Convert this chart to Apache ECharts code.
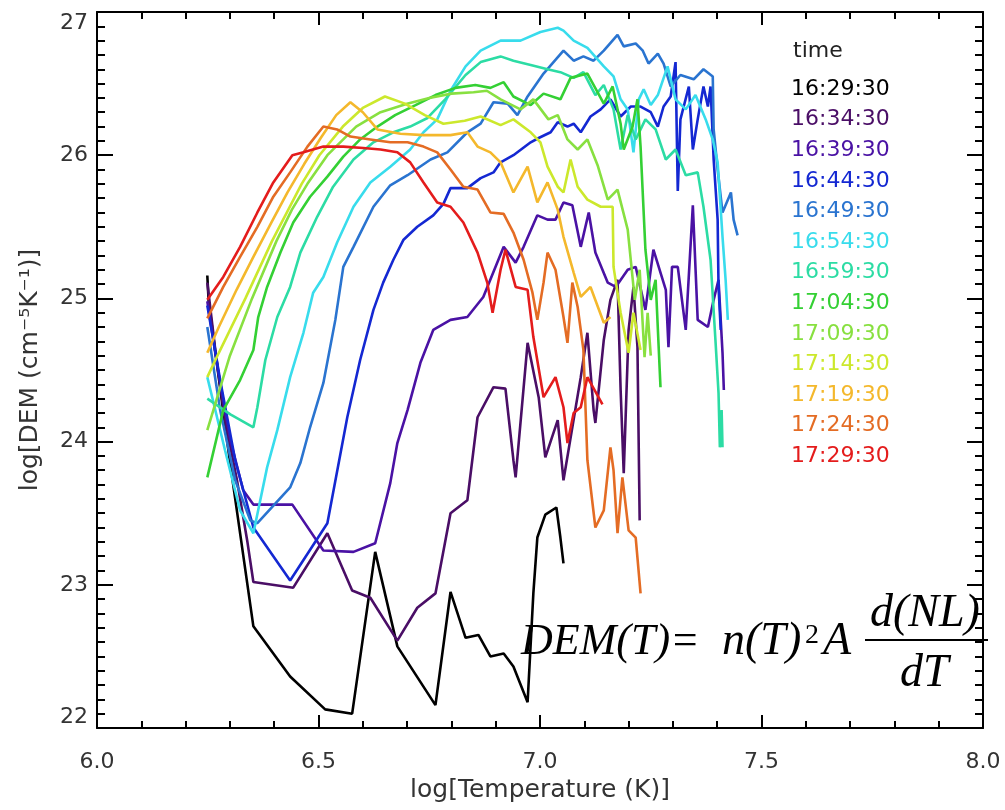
<!DOCTYPE html>
<html>
<head>
<meta charset="utf-8">
<title>DEM</title>
<script src="https://cdn.jsdelivr.net/npm/echarts@6/dist/echarts.min.js"></script>
<style>
  html, body { margin: 0; padding: 0; background: #fff; }
  #chart { width: 1005px; height: 810px; }
</style>
</head>
<body>
<div id="chart"></div>
<script>
// legend entries (time of each curve)
var times = ['16:29:30', '16:34:30', '16:39:30', '16:44:30', '16:49:30', '16:54:30', '16:59:30',
  '17:04:30', '17:09:30', '17:14:30', '17:19:30', '17:24:30', '17:29:30']

// axis ticks
var xTicks = [6.0, 6.5, 7.0, 7.5, 8.0]
var yTicks = [22, 23, 24, 25, 26, 27]

// [log T, log DEM]
var d162930 = [[6.249,25.16],[6.252,24.98],[6.300,23.86],[6.353,22.71],[6.436,22.36],[6.515,22.13],[6.576,22.10],[6.628,23.23],[6.678,22.57],[6.764,22.16],[6.798,22.95],[6.832,22.63],[6.861,22.65],[6.888,22.50],[6.918,22.52],[6.940,22.43],[6.972,22.18],[6.985,22.94],[6.994,23.33],[7.012,23.49],[7.037,23.54],[7.046,23.33],[7.053,23.15]]
var d163430 = [[6.249,25.11],[6.267,24.64],[6.289,24.15],[6.316,23.73],[6.339,23.31],[6.353,23.02],[6.443,22.98],[6.520,23.36],[6.576,22.96],[6.617,22.91],[6.678,22.61],[6.723,22.84],[6.764,22.94],[6.798,23.50],[6.836,23.59],[6.859,24.17],[6.895,24.38],[6.922,24.37],[6.940,23.87],[6.945,23.75],[6.972,24.69],[6.997,24.31],[7.012,23.89],[7.040,24.15],[7.053,23.73],[7.092,24.45],[7.107,24.76],[7.121,24.22],[7.125,24.13],[7.144,24.71],[7.159,24.99],[7.175,25.13],[7.182,24.36],[7.189,23.78],[7.200,24.78],[7.211,25.08],[7.220,24.66],[7.225,23.45]]
var d163930 = [[6.249,24.98],[6.273,24.50],[6.301,24.01],[6.330,23.66],[6.353,23.56],[6.441,23.56],[6.511,23.24],[6.579,23.23],[6.628,23.29],[6.662,23.71],[6.678,23.99],[6.701,24.22],[6.730,24.55],[6.759,24.78],[6.798,24.85],[6.836,24.87],[6.872,25.01],[6.918,25.36],[6.945,25.25],[6.963,25.36],[6.994,25.58],[7.017,25.55],[7.035,25.55],[7.053,25.67],[7.073,25.65],[7.092,25.36],[7.110,25.60],[7.125,25.32],[7.153,25.11],[7.171,25.08],[7.198,25.20],[7.216,25.22],[7.238,24.92],[7.256,25.34],[7.284,25.06],[7.290,24.66],[7.298,25.22],[7.311,25.22],[7.329,24.78],[7.345,25.65],[7.356,24.85],[7.379,24.80],[7.392,24.99],[7.403,25.13],[7.412,24.62],[7.415,24.36]]
var d164430 = [[6.249,24.95],[6.278,24.43],[6.312,23.87],[6.353,23.40],[6.436,23.03],[6.520,23.43],[6.565,24.17],[6.594,24.57],[6.624,24.92],[6.646,25.11],[6.669,25.27],[6.692,25.41],[6.723,25.50],[6.759,25.58],[6.782,25.66],[6.798,25.77],[6.836,25.77],[6.866,25.84],[6.895,25.88],[6.911,25.95],[6.940,26.00],[6.979,26.09],[6.997,26.12],[7.024,26.16],[7.040,26.23],[7.062,26.20],[7.076,26.22],[7.092,26.16],[7.114,26.27],[7.137,26.32],[7.159,26.39],[7.182,26.27],[7.205,26.34],[7.227,26.34],[7.250,26.30],[7.266,26.20],[7.279,26.34],[7.295,26.41],[7.306,26.65],[7.311,25.75],[7.317,26.25],[7.336,26.48],[7.345,26.04],[7.356,26.25],[7.369,26.48],[7.379,26.34],[7.385,26.48],[7.392,25.97],[7.401,25.55],[7.403,25.08],[7.408,24.78]]
var d164930 = [[6.249,24.80],[6.278,24.22],[6.312,23.73],[6.346,23.45],[6.362,23.43],[6.436,23.68],[6.459,23.85],[6.481,24.10],[6.511,24.41],[6.538,24.85],[6.556,25.22],[6.579,25.36],[6.624,25.64],[6.662,25.79],[6.701,25.86],[6.753,25.97],[6.791,26.02],[6.836,26.16],[6.866,26.22],[6.895,26.37],[6.927,26.36],[6.949,26.28],[6.972,26.41],[7.008,26.57],[7.053,26.73],[7.076,26.66],[7.098,26.69],[7.121,26.66],[7.144,26.73],[7.175,26.84],[7.189,26.76],[7.216,26.78],[7.232,26.73],[7.245,26.64],[7.266,26.71],[7.279,26.64],[7.295,26.48],[7.317,26.56],[7.347,26.53],[7.369,26.60],[7.390,26.55],[7.392,26.18],[7.401,25.90],[7.412,25.60],[7.431,25.74],[7.437,25.55],[7.446,25.44]]
var d165430 = [[6.249,24.45],[6.289,23.94],[6.323,23.52],[6.353,23.36],[6.384,23.82],[6.407,24.08],[6.436,24.45],[6.466,24.76],[6.488,25.04],[6.511,25.15],[6.542,25.39],[6.579,25.64],[6.617,25.81],[6.662,25.92],[6.707,26.04],[6.737,26.16],[6.768,26.25],[6.798,26.45],[6.832,26.62],[6.866,26.73],[6.911,26.80],[6.956,26.80],[7.001,26.86],[7.040,26.89],[7.053,26.87],[7.076,26.80],[7.107,26.75],[7.144,26.62],[7.166,26.55],[7.182,26.39],[7.198,26.32],[7.211,26.02],[7.223,26.39],[7.234,26.46],[7.250,26.35],[7.266,26.42],[7.288,26.62],[7.306,26.39],[7.329,26.32],[7.351,26.42],[7.374,26.25],[7.390,26.11],[7.401,25.95],[7.412,25.43],[7.419,25.13],[7.424,24.85]]
var d165930 = [[6.249,24.30],[6.301,24.19],[6.353,24.10],[6.362,24.24],[6.380,24.57],[6.407,24.87],[6.436,25.08],[6.459,25.32],[6.497,25.57],[6.533,25.78],[6.579,25.97],[6.624,26.09],[6.669,26.16],[6.707,26.20],[6.746,26.26],[6.786,26.39],[6.832,26.56],[6.866,26.65],[6.911,26.69],[6.940,26.66],[6.979,26.63],[7.017,26.60],[7.046,26.58],[7.076,26.54],[7.098,26.58],[7.125,26.42],[7.144,26.49],[7.166,26.32],[7.182,26.04],[7.198,26.28],[7.216,26.11],[7.238,26.25],[7.261,26.18],[7.284,25.97],[7.306,26.04],[7.329,25.86],[7.356,25.88],[7.369,25.64],[7.385,25.27],[7.396,24.71],[7.403,24.34],[7.406,23.96],[7.410,24.22],[7.412,23.96]]
var d170430 = [[6.249,23.75],[6.285,24.22],[6.323,24.43],[6.353,24.64],[6.364,24.87],[6.384,25.08],[6.414,25.32],[6.443,25.53],[6.481,25.71],[6.520,25.85],[6.556,25.99],[6.594,26.11],[6.633,26.20],[6.673,26.28],[6.719,26.35],[6.764,26.42],[6.809,26.47],[6.854,26.49],[6.888,26.47],[6.918,26.51],[6.940,26.41],[6.979,26.35],[7.008,26.43],[7.046,26.39],[7.069,26.54],[7.107,26.57],[7.144,26.36],[7.164,26.48],[7.182,26.22],[7.189,26.04],[7.209,26.20],[7.220,26.39],[7.227,26.06],[7.238,25.34],[7.250,24.99],[7.261,25.13],[7.272,24.38]]
var d170930 = [[6.249,24.08],[6.300,24.60],[6.350,25.00],[6.405,25.40],[6.440,25.62],[6.475,25.80],[6.520,26.00],[6.585,26.20],[6.640,26.30],[6.700,26.36],[6.750,26.40],[6.800,26.43],[6.850,26.44],[6.880,26.45],[6.911,26.39],[6.956,26.32],[6.985,26.39],[7.019,26.25],[7.040,26.28],[7.062,26.11],[7.085,26.04],[7.107,26.11],[7.130,25.93],[7.153,25.69],[7.175,25.76],[7.198,25.48],[7.214,24.99],[7.225,25.20],[7.236,24.59],[7.243,24.90],[7.250,24.60]]
var d171430 = [[6.249,24.45],[6.275,24.62],[6.335,25.00],[6.395,25.40],[6.462,25.80],[6.502,26.00],[6.555,26.20],[6.600,26.33],[6.650,26.41],[6.695,26.36],[6.740,26.28],[6.782,26.22],[6.830,26.24],[6.866,26.27],[6.911,26.21],[6.940,26.25],[6.979,26.16],[7.001,26.09],[7.017,25.92],[7.040,25.78],[7.053,25.74],[7.069,25.97],[7.085,25.78],[7.107,25.69],[7.137,25.64],[7.164,25.64],[7.166,25.22],[7.182,24.90],[7.200,24.62],[7.211,24.90],[7.227,24.64]]
var d171930 = [[6.249,24.62],[6.275,24.80],[6.315,25.06],[6.353,25.29],[6.392,25.52],[6.430,25.74],[6.468,25.94],[6.505,26.12],[6.540,26.28],[6.572,26.37],[6.600,26.30],[6.633,26.18],[6.685,26.15],[6.737,26.14],[6.798,26.14],[6.836,26.16],[6.859,26.06],[6.888,26.02],[6.911,25.95],[6.940,25.74],[6.972,25.92],[6.994,25.67],[7.017,25.81],[7.040,25.62],[7.053,25.43],[7.076,25.18],[7.092,25.01],[7.114,25.08],[7.144,24.83],[7.159,24.87]]
var d172430 = [[6.249,24.86],[6.285,25.08],[6.323,25.29],[6.362,25.50],[6.398,25.71],[6.436,25.88],[6.475,26.06],[6.511,26.20],[6.542,26.18],[6.572,26.13],[6.617,26.11],[6.662,26.09],[6.701,26.09],[6.737,26.06],[6.768,26.02],[6.798,25.90],[6.827,25.78],[6.859,25.76],[6.888,25.60],[6.918,25.59],[6.940,25.46],[6.963,25.27],[6.983,25.04],[6.994,24.85],[7.008,25.11],[7.017,25.32],[7.035,25.20],[7.053,24.87],[7.062,24.69],[7.073,25.11],[7.085,24.94],[7.098,24.64],[7.107,23.87],[7.125,23.40],[7.144,23.52],[7.159,23.96],[7.166,23.80],[7.175,23.36],[7.186,23.75],[7.200,23.38],[7.216,23.33],[7.227,22.94]]
var d172930 = [[6.249,24.99],[6.285,25.15],[6.323,25.36],[6.362,25.60],[6.398,25.81],[6.441,26.00],[6.466,26.02],[6.511,26.06],[6.556,26.06],[6.601,26.05],[6.640,26.04],[6.678,26.02],[6.707,25.95],[6.737,25.81],[6.768,25.67],[6.798,25.64],[6.827,25.53],[6.859,25.32],[6.881,25.11],[6.893,24.90],[6.911,25.20],[6.922,25.34],[6.945,25.08],[6.972,25.06],[6.985,24.73],[7.008,24.31],[7.035,24.45],[7.053,24.24],[7.062,23.99],[7.076,24.20],[7.092,24.24],[7.107,24.45],[7.141,24.26]]

var curves = [d162930, d163430, d163930, d164430, d164930, d165430, d165930,
  d170430, d170930, d171430, d171930, d172430, d172930]

var colors = ['#000000', '#4a0e66', '#4a12a4', '#1428d2', '#2a74d0', '#38dcec', '#2cdca4',
  '#34d034', '#88e040', '#cce82c', '#f4b82c', '#e46c24', '#e41c1c']

var font = 'DejaVu Sans'
var chart = echarts.init(document.getElementById('chart'))

function boxAxis (pos, showLabel, o) {
  return Object.assign({
    type: 'value',
    position: pos,
    axisLine: { show: true, onZero: false, lineStyle: { color: '#000', width: 2 } },
    axisTick: { show: true, inside: true, lineStyle: { color: '#000', width: 2 } },
    minorTick: { show: true, lineStyle: { color: '#000', width: 2 } },
    splitLine: { show: false },
    axisLabel: { show: showLabel, fontSize: 22, color: '#333', fontFamily: font, showMinLabel: true, showMaxLabel: true }
  }, o)
}

var xa = { min: xTicks[0], max: xTicks[xTicks.length - 1], interval: xTicks[1] - xTicks[0] }
var ya = { min: yTicks[0], max: yTicks[yTicks.length - 1], interval: yTicks[1] - yTicks[0] }

var option = {
  animation: false,
  backgroundColor: '#fff',
  title: {
    text: 'time', left: 793, top: 40, padding: 0,
    textStyle: { fontSize: 22, fontWeight: 'normal', color: '#222', fontFamily: font }
  },
  legend: {
    orient: 'vertical', left: 785, top: 78, padding: 0,
    itemWidth: 0, itemHeight: 0, itemGap: 8.6, selectedMode: false,
    textStyle: { fontSize: 22, fontFamily: font },
    data: times.map(function (t, i) { return { name: t, textStyle: { color: colors[i] } } })
  },
  grid: { left: 97, right: 22, top: 12, bottom: 82, containLabel: false, outerBoundsMode: 'none' },
  xAxis: [
    boxAxis('bottom', true, Object.assign({
      axisTick: { show: true, inside: true, length: 13, lineStyle: { color: '#000', width: 2 } },
      minorTick: { show: true, splitNumber: 5, length: 7, lineStyle: { color: '#000', width: 2 } },
      axisLabel: { show: true, fontSize: 22, color: '#333', fontFamily: font, margin: 23,
        showMinLabel: true, showMaxLabel: true, formatter: function (v) { return v.toFixed(1) } },
      name: 'log[Temperature (K)]', nameLocation: 'middle', nameGap: 49,
      nameTextStyle: { fontSize: 25, color: '#333', fontFamily: font }
    }, xa)),
    boxAxis('top', false, Object.assign({
      axisTick: { show: true, inside: true, length: 13, lineStyle: { color: '#000', width: 2 } },
      minorTick: { show: true, splitNumber: 5, length: 7, lineStyle: { color: '#000', width: 2 } }
    }, xa))
  ],
  yAxis: [
    boxAxis('left', true, Object.assign({
      axisTick: { show: true, inside: true, length: 16, lineStyle: { color: '#000', width: 2 } },
      minorTick: { show: true, splitNumber: 10, length: 8, lineStyle: { color: '#000', width: 2 } },
      axisLabel: { show: true, fontSize: 22, color: '#333', fontFamily: font, margin: 9,
        showMinLabel: true, showMaxLabel: true, verticalAlignMaxLabel: 'top', verticalAlignMinLabel: 'bottom' },
      name: 'log[DEM (cm\u207B\u2075K\u207B\u00B9)]', nameLocation: 'middle', nameGap: 54,
      nameTextStyle: { fontSize: 25, color: '#333', fontFamily: font }
    }, ya)),
    boxAxis('right', false, Object.assign({
      axisTick: { show: true, inside: true, length: 16, lineStyle: { color: '#000', width: 2 } },
      minorTick: { show: true, splitNumber: 10, length: 8, lineStyle: { color: '#000', width: 2 } }
    }, ya))
  ],
  series: curves.map(function (c, i) {
    return {
      name: times[i],
      type: 'line',
      data: c,
      xAxisIndex: 0,
      yAxisIndex: 0,
      symbol: 'none',
      showSymbol: false,
      clip: true,
      lineStyle: { width: 2.6, color: colors[i] },
      itemStyle: { color: colors[i] }
    }
  }),
  // formula DEM(T) = n(T)^2 A d(NL)/dT
  graphic: [
    { type: 'text', z: 100, x: 521, y: 642, style: { text: 'DEM(T)=', font: 'italic 44px "Liberation Serif"', fill: '#000', verticalAlign: 'middle' } },
    { type: 'text', z: 100, x: 722, y: 642, style: { text: 'n(T)', font: 'italic 46px "Liberation Serif"', fill: '#000', verticalAlign: 'middle' } },
    { type: 'text', z: 100, x: 805, y: 636, style: { text: '2', font: '28px "Liberation Serif"', fill: '#000', verticalAlign: 'middle' } },
    { type: 'text', z: 100, x: 823, y: 642, style: { text: 'A', font: 'italic 46px "Liberation Serif"', fill: '#000', verticalAlign: 'middle' } },
    { type: 'line', z: 100, shape: { x1: 865, y1: 640, x2: 988, y2: 640 }, style: { stroke: '#000', lineWidth: 2 } },
    { type: 'text', z: 100, x: 870, y: 614, style: { text: 'd(NL)', font: 'italic 46px "Liberation Serif"', fill: '#000', verticalAlign: 'middle' } },
    { type: 'text', z: 100, x: 900, y: 674, style: { text: 'dT', font: 'italic 46px "Liberation Serif"', fill: '#000', verticalAlign: 'middle' } }
  ]
}

chart.setOption(option)
window.addEventListener('resize', function () {
  chart.resize()
})
</script>
</body>
</html>
